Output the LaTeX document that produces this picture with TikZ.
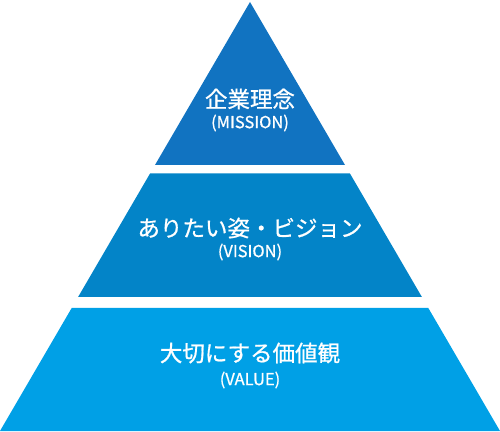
\documentclass[tikz,border=0pt]{standalone}
\usepackage{fontspec}
\setmainfont{Noto Sans CJK JP}[FakeBold=0.8]
\definecolor{topblue}{RGB}{17,115,193}
\definecolor{midblue}{RGB}{3,132,200}
\definecolor{lowblue}{RGB}{0,160,230}
\tikzset{
  band/.style={draw=none},
  bigtxt/.style={text=white,font=\fontsize{22.5}{26}\selectfont,inner sep=0pt,anchor=center},
  smalltxt/.style={text=white,font=\fontsize{16.5}{19}\selectfont,inner sep=0pt,anchor=center}
}
\begin{document}
\begin{tikzpicture}[x=1pt,y=1pt]
\useasboundingbox (0,0) rectangle (500,431);
\fill[band,topblue] (250,429) -- (155,266) -- (345,266) -- cycle;
\fill[band,midblue] (150.05,257.5) -- (349.95,257.5) -- (421.9,134) -- (78.1,134) -- cycle;
\fill[band,lowblue] (71.7,123) -- (428.3,123) -- (500,0) -- (0,0) -- cycle;
\node[bigtxt] (t1) at (250,332) {企業理念};
\node[smalltxt] (s1) at (250,308) {(MISSION)};
\node[bigtxt] (t2) at (250,203) {ありたい姿・ビジョン};
\node[smalltxt] (s2) at (250,179) {(VISION)};
\node[bigtxt] (t3) at (250,78) {大切にする価値観};
\node[smalltxt] (s3) at (250,51) {(VALUE)};
\end{tikzpicture}
\end{document}
